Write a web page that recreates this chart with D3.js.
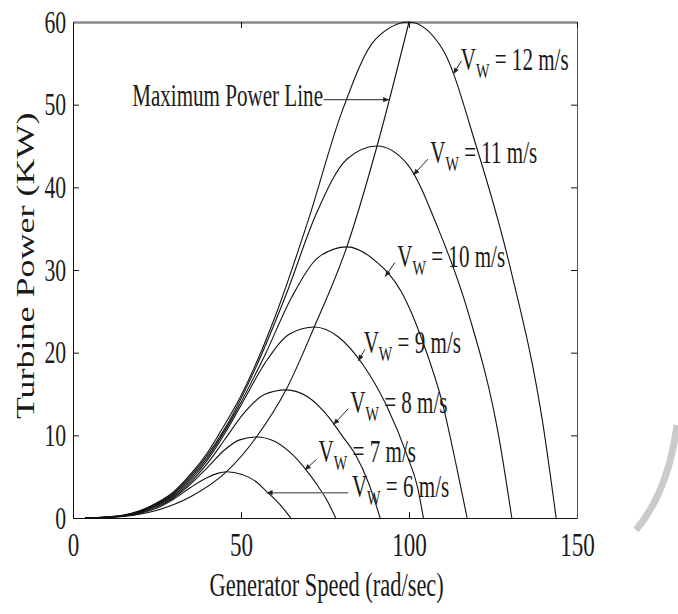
<!DOCTYPE html>
<meta charset="utf-8">
<style>
body { margin: 0; background: #fff; }
text { font-family: "Liberation Serif", "Times New Roman", serif; fill: #1a1a1a; }
.curve { fill: none; stroke: #111; stroke-width: 1.1px; }
.axis path, .axis line { stroke: #111; }
</style>
<body>
<script src="https://d3js.org/d3.v7.min.js"></script>
<script>

// tick values
var xTicks = [0, 50, 100, 150];
var yTicks = [0, 10, 20, 30, 40, 50, 60];

// wind speeds (m/s)
var windSpeeds = [6, 7, 8, 9, 10, 11, 12];

// generator speed (rad/s) and turbine power (kW)
var w6 = [3.6, 10, 15, 20, 25, 30, 35, 40, 43, 45.7, 50.3, 54.8, 57.6, 60.5, 63.0, 64.8];
var p6 = [0, 0.07, 0.22, 0.55, 1.2, 2.3, 3.7, 4.9, 5.4, 5.6, 5.25, 4.3, 3.2, 2.1, 0.95, 0];

var w7 = [3.6, 10, 15, 20, 25, 30, 35, 40, 45, 49.6, 54.6, 60.1, 65.5, 69.0, 72.5, 75.5, 78.2];
var p7 = [0, 0.07, 0.25, 0.65, 1.35, 2.45, 4.1, 6.1, 8.2, 9.45, 9.8, 9.26, 7.6, 6.0, 4.1, 2.2, 0];

var w8 = [3.6, 10, 15, 20, 25, 30, 35, 40, 45, 50.7, 57.1, 63.4, 69.7, 76.1, 80, 84, 88, 91.4];
var p8 = [0, 0.08, 0.27, 0.7, 1.5, 2.6, 4.35, 6.6, 9.4, 12.6, 14.96, 15.5, 14.7, 12.2, 10.0, 7.7, 4.2, 0];

var w9 = [3.6, 10, 15, 20, 25, 30, 35, 40, 45, 50.3, 57.4, 64.6, 71.8, 79.0, 86.2, 93.3, 99.5, 102.5, 104.3];
var p9 = [0, 0.09, 0.29, 0.75, 1.6, 2.75, 4.6, 7.0, 10.1, 13.86, 18.9, 22.3, 23.1, 21.9, 18.6, 13.6, 7.5, 3.8, 0];

var w10 = [3.6, 10, 15, 20, 25, 30, 35, 40, 48.9, 57.1, 65.2, 73.4, 81.5, 89.7, 97.8, 104.3, 110.0, 114.1, 117.3];
var p10 = [0, 0.1, 0.31, 0.8, 1.7, 2.9, 4.85, 7.3, 13.2, 19.7, 26.8, 31.65, 32.8, 31.2, 27.3, 21.1, 13.8, 6.3, 0];

var w11 = [3.6, 10, 15, 20, 25, 30, 35, 40, 45.3, 54.3, 63.4, 72.4, 81.5, 90.5, 99.6, 108.6, 117.7, 126.7, 130.6];
var p11 = [0, 0.11, 0.33, 0.85, 1.8, 3.05, 5.1, 7.6, 10.9, 18.1, 27.0, 36.8, 43.4, 45, 42.75, 35.1, 24.75, 9.9, 0];

var w12 = [3.6, 10, 15, 20, 25, 30, 35, 40, 45, 50, 60, 70, 80, 90, 100, 110, 120, 130, 140, 143.8];
var p12 = [0, 0.12, 0.35, 0.9, 1.85, 3.2, 5.3, 7.9, 11.2, 14.8, 24.2, 36.0, 49.1, 57.9, 60, 56.7, 45.0, 30.5, 11.0, 0];

// maximum power line through the peaks
var wMax = [3.6, 15, 25, 35, 45.7, 54.6, 63.4, 71.8, 81.5, 90.5, 100];
var pMax = [0, 0.2, 0.94, 2.57, 5.6, 9.8, 15.5, 23.1, 32.8, 45, 60];

var speedData = [w6, w7, w8, w9, w10, w11, w12];
var powerData = [p6, p7, p8, p9, p10, p11, p12];

// layout
var W = 678, H = 614;
var margin = {top: 22, right: 101, bottom: 96, left: 73};
var width = W - margin.left - margin.right,
    height = H - margin.top - margin.bottom;
var squash = 0.68;   // the figure's lettering is narrow

var svg = d3.select("body").append("svg")
    .attr("width", W)
    .attr("height", H);

var x = d3.scaleLinear().domain([0, 150]).range([margin.left, margin.left + width]);
var y = d3.scaleLinear().domain([0, 60]).range([margin.top + height, margin.top]);

// faint swoosh from the page behind the figure
svg.append("path")
    .attr("d", "M677,425 Q668,492 636,530")
    .attr("fill", "none")
    .attr("stroke", "#cbcbcb")
    .attr("stroke-width", 7);

// axes box
var gx = svg.append("g").attr("class", "axis")
    .attr("transform", "translate(0," + y(0) + ")")
    .call(d3.axisBottom(x).tickValues(xTicks).tickSizeInner(-6).tickSizeOuter(0).tickPadding(14));
gx.selectAll("text")
    .style("font-size", "34px")
    .attr("transform", "scale(" + squash + ",1)");

var gy = svg.append("g").attr("class", "axis")
    .attr("transform", "translate(" + x(0) + ",0)")
    .call(d3.axisLeft(y).tickValues(yTicks).tickSizeInner(-6).tickSizeOuter(0).tickPadding(10));
gy.selectAll("text")
    .style("font-size", "32px")
    .attr("transform", "scale(" + squash + ",1)");

svg.append("g").attr("class", "axis")
    .attr("transform", "translate(" + x(150) + ",0)")
    .call(d3.axisRight(y).tickValues(yTicks).tickSizeInner(-6).tickSizeOuter(0).tickFormat(""))
    .select(".domain").style("stroke", "#555");

var gt = svg.append("g").attr("class", "axis")
    .attr("transform", "translate(0," + y(60) + ")")
    .call(d3.axisTop(x).tickValues(xTicks).tickSizeInner(-6).tickSizeOuter(0).tickFormat(""));
gt.select(".domain").style("stroke", "#8a8a8a").style("stroke-width", 2.5);

// curves
var line = d3.line()
    .x(function(d) { return x(d[0]); })
    .y(function(d) { return y(d[1]); })
    .curve(d3.curveMonotoneX);

windSpeeds.forEach(function(v, i) {
  var pts = speedData[i].map(function(w, j) { return [w, powerData[i][j]]; });
  svg.append("path")
      .datum(pts)
      .attr("class", "curve")
      .attr("d", line);
});

svg.append("path")
    .datum(wMax.map(function(w, j) { return [w, pMax[j]]; }))
    .attr("class", "curve")
    .attr("d", line);

// annotations: label start, arrow tail, arrow tip (data units)
var notes = [
  {v: 12, at: [115.4, 54.2], from: [115.6, 55.3], tip: [113.2, 53.7]},
  {v: 11, at: [106.3, 42.9], from: [105.6, 43.4], tip: [101.3, 41.5]},
  {v: 10, at: [96.5, 30.4], from: [95.8, 30.9], tip: [92.9, 29.2]},
  {v: 9,  at: [86.5, 20.0], from: [86.9, 20.4], tip: [84.9, 19.0]},
  {v: 8,  at: [82.5, 12.7], from: [81.9, 13.2], tip: [77.5, 11.3]},
  {v: 7,  at: [73.1, 6.8],  from: [72.5, 7.1],  tip: [69.0, 5.8]},
  {v: 6,  at: [83.0, 2.58], from: [81.9, 3.06], tip: [57.6, 3.06]}
];

function arrow(x1, y1, x2, y2, col, sw) {
  svg.append("line")
      .attr("x1", x1).attr("y1", y1).attr("x2", x2).attr("y2", y2)
      .attr("stroke", col).attr("stroke-width", sw);
  var a = Math.atan2(y2 - y1, x2 - x1), L = 6, s = 2.6;
  var bx = x2 - L * Math.cos(a), by = y2 - L * Math.sin(a);
  svg.append("path")
      .attr("d", "M" + x2 + "," + y2 +
                 "L" + (bx + s * Math.sin(a)) + "," + (by - s * Math.cos(a)) +
                 "L" + (bx - s * Math.sin(a)) + "," + (by + s * Math.cos(a)) + "Z")
      .attr("fill", "#222");
}

notes.forEach(function(n) {
  arrow(x(n.from[0]), y(n.from[1]), x(n.tip[0]), y(n.tip[1]),
        n.v === 6 ? "#777" : "#222", n.v === 6 ? 1.6 : 1);
  var t = svg.append("text")
      .attr("transform", "translate(" + x(n.at[0]) + "," + y(n.at[1]) + ") scale(" + squash + ",1)")
      .style("font-size", "31px");
  t.append("tspan").text("V");
  t.append("tspan").attr("dy", 8).style("font-size", "21px").text("W");
  t.append("tspan").attr("dy", -8).text(" = " + n.v + " m/s");
});

// maximum power line label
svg.append("text")
    .attr("transform", "translate(" + x(74.4) + "," + y(49.8) + ") scale(" + squash + ",1)")
    .attr("text-anchor", "end")
    .style("font-size", "31px")
    .text("Maximum Power Line");
arrow(x(74.6), y(50.6), x(94.1), y(50.6), "#222", 1);

// axis titles
svg.append("text")
    .attr("transform", "translate(" + x(75.5) + ",596) scale(0.66,1)")
    .attr("text-anchor", "middle")
    .style("font-size", "34px")
    .text("Generator Speed (rad/sec)");

svg.append("text")
    .attr("transform", "translate(34," + y(30.5) + ") rotate(-90) scale(1,0.7)")
    .attr("text-anchor", "middle")
    .style("font-size", "36px")
    .text("Turbine Power (KW)");

</script>
</body>
